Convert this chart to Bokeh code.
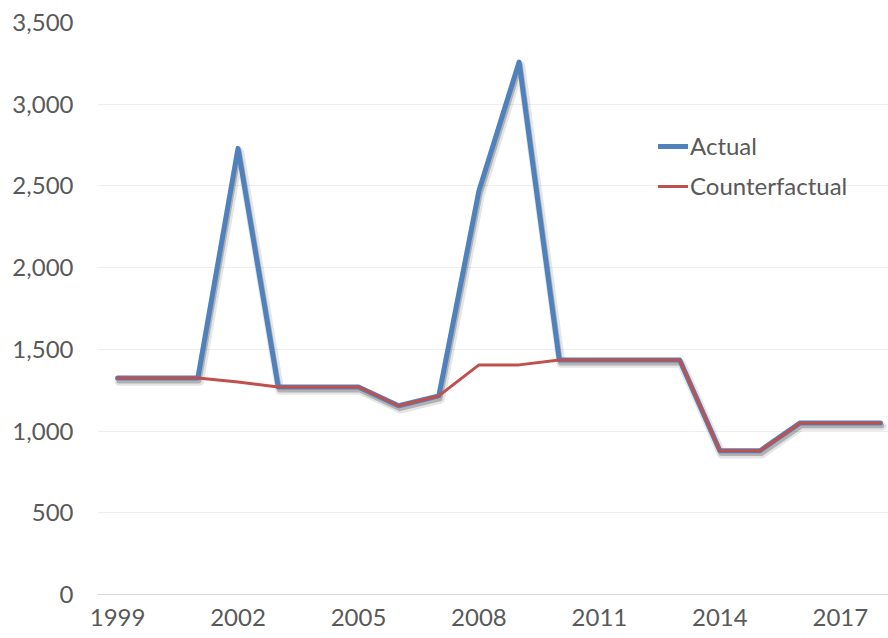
from bokeh.plotting import figure
from bokeh.models import ColumnDataSource, Range1d, FixedTicker, NumeralTickFormatter, Legend, LegendItem
from bokeh.transform import dodge
from bokeh.embed import file_html
from bokeh.resources import INLINE

years = list(range(1999, 2019))
actual = [1325, 1325, 1325, 2730, 1270, 1270, 1270, 1155, 1215, 2470,
          3258, 1435, 1435, 1435, 1435, 880, 880, 1050, 1050, 1050]
counterfactual = [1325, 1325, 1325, 1300, 1270, 1270, 1270, 1155, 1215, 1405,
                  1405, 1435, 1435, 1435, 1435, 880, 880, 1050, 1050, 1050]
x_ticks = [1999, 2002, 2005, 2008, 2011, 2014, 2017]
y_ticks = [0, 500, 1000, 1500, 2000, 2500, 3000, 3500]

FONT = "Lato"
TXT = "#595959"

src = ColumnDataSource(dict(x=years, a=actual, c=counterfactual))

p = figure(width=888, height=638, output_backend="svg", toolbar_location=None,
           x_range=Range1d(1998.5, 2018.2), y_range=Range1d(0, 3500),
           min_border_left=97, min_border_right=0, min_border_top=22, min_border_bottom=44)
p.outline_line_color = None
p.background_fill_color = "white"

# shadow under the Actual line
p.line(x=dodge("x", 0.04, range=p.x_range), y=dodge("a", -20, range=p.y_range), source=src,
       line_color="#000000", line_alpha=0.10, line_width=9, line_join="round", line_cap="round")
p.line(x=dodge("x", 0.03, range=p.x_range), y=dodge("a", -18, range=p.y_range), source=src,
       line_color="#000000", line_alpha=0.22, line_width=5, line_join="round", line_cap="round")

r_a = p.line("x", "a", source=src, line_color="#4f81bd", line_width=5,
             line_join="round", line_cap="round")
r_c = p.line("x", "c", source=src, line_color="#c0504d", line_width=3,
             line_join="round", line_cap="round")

p.xgrid.visible = False
p.ygrid.grid_line_color = "#eeeeee"
p.ygrid.grid_line_width = 1
p.ygrid.ticker = FixedTicker(ticks=y_ticks)

p.xaxis.ticker = FixedTicker(ticks=x_ticks)
p.yaxis.ticker = FixedTicker(ticks=y_ticks)
p.yaxis.formatter = NumeralTickFormatter(format="0,0")
for ax in (p.xaxis, p.yaxis):
    ax.major_tick_line_color = None
    ax.minor_tick_line_color = None
    ax.major_tick_out = 0
    ax.major_tick_in = 0
    ax.major_label_text_font = FONT
    ax.major_label_text_font_size = "24px"
    ax.major_label_text_color = TXT
p.yaxis.axis_line_color = None
p.xaxis.axis_line_color = "#d9d9d9"
p.xaxis.axis_line_width = 1
p.yaxis.major_label_standoff = 24
p.xaxis.major_label_standoff = 14

legend = Legend(items=[LegendItem(label="Actual", renderers=[r_a]),
                       LegendItem(label="Counterfactual", renderers=[r_c])],
                location=(561, 394), border_line_color=None, background_fill_alpha=0,
                padding=0, margin=0, spacing=11, glyph_width=30, glyph_height=24,
                label_height=24, label_standoff=2,
                label_text_font=FONT, label_text_font_size="24px", label_text_color=TXT)
p.add_layout(legend)

open("out.html", "w").write(file_html(p, INLINE))
